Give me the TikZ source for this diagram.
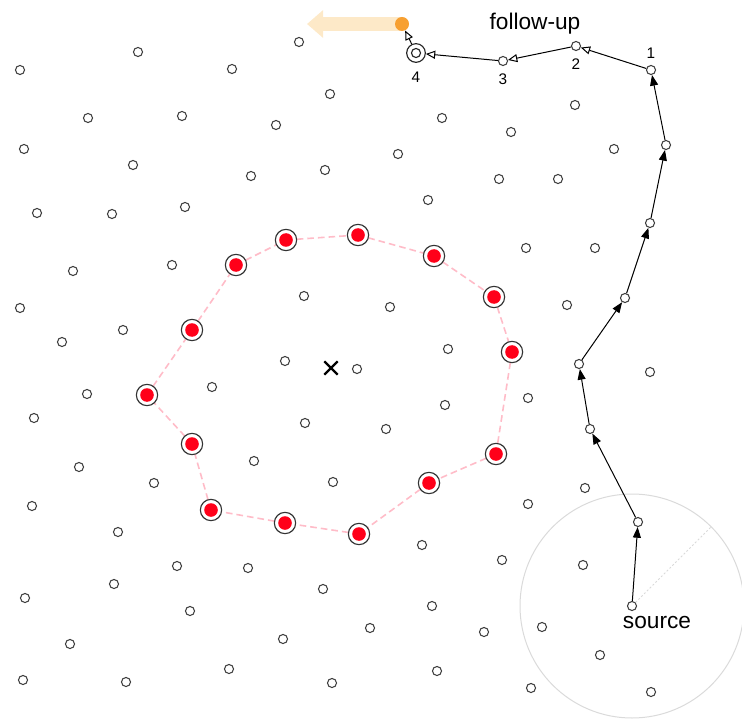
\documentclass[tikz,border=0pt]{standalone}
\usepackage{fontspec}
\setmainfont{Liberation Sans}
\usetikzlibrary{arrows.meta,shapes.misc,calc}
\definecolor{ringred}{RGB}{255,0,25}
\definecolor{pinkline}{RGB}{255,188,200}
\definecolor{fuorange}{RGB}{247,160,50}
\definecolor{fuband}{RGB}{253,233,200}
\definecolor{circgray}{RGB}{218,218,218}
\tikzset{
  dot/.style={circle, draw=black!75, line width=0.8pt, fill=white, minimum size=6.8pt, inner sep=0pt},
  reddot/.style={circle, draw=black!80, line width=0.85pt, fill=white, minimum size=16pt, inner sep=0pt,
    path picture={\fill[ringred] (path picture bounding box.center) circle (5.1pt);}},
  target/.style={circle, draw=black!85, line width=0.85pt, fill=white, minimum size=14pt, inner sep=0pt,
    path picture={\draw[black!85, line width=0.85pt] (path picture bounding box.center) circle (3.4pt);}},
  fudot/.style={circle, fill=fuorange, minimum size=10.5pt, inner sep=0pt},
  walk/.style={draw=black, line width=0.75pt, -{Triangle[length=8pt,width=6pt]}},
  follow/.style={draw=black, line width=0.75pt, -{Triangle[open,length=7pt,width=6pt]}},
  ringline/.style={draw=pinkline, line width=1.2pt, dash pattern=on 5pt off 3pt},
  band/.style={draw=fuband, line width=10pt, -{Triangle[length=12pt,width=20pt]}},
  numlbl/.style={anchor=base, inner sep=0pt, font=\fontsize{11.5}{13}\selectfont},
  biglbl/.style={anchor=base, inner sep=0pt, font=\fontsize{17}{20}\selectfont},
  xmark/.style={cross out, draw=black, line width=1.6pt, minimum size=8.5pt, inner sep=0pt},
}
\begin{document}
\begin{tikzpicture}[x=0.75pt,y=-0.75pt]
\useasboundingbox (0,0) rectangle (742,720);
% source and its circle
\node[dot] (src) at (632,606) {};
\draw[circgray, line width=0.75pt] (src) circle (84pt);
\coordinate (rim) at ($(src)+(45:84pt)$);
\draw[circgray, line width=0.6pt, dash pattern=on 1.5pt off 1.5pt] (src.45) -- (rim);
% plain dots
\foreach \x/\y [count=\i] in {138/52, 299/42, 20/70, 232/69, 88/118, 182/116, 330/94, 276/125, 24/149, 133/165,
  442/118, 511/132, 575/105, 398/154, 251/176, 325/170, 614/149, 499/179, 558/179, 37/213,
  112/214, 185/207, 428/200, 526/248, 595/248, 73/271, 172/265, 20/308, 123/330, 62/342,
  304/296, 390/307, 567/305, 448/349, 285/361, 357/369, 650/372, 87/394, 212/387, 34/418,
  445/405, 528/398, 305/423, 386/429, 79/467, 254/461, 333/482, 154/483, 585/488, 528/504,
  32/506, 118/532, 422/545, 177/566, 248/568, 502/560, 583/565, 114/584, 25/598, 190/611,
  323/589, 432/606, 370/628, 484/632, 542/627, 283/639, 70/644, 229/669, 600/655, 23/680,
  126/682, 332/683, 437/671, 531/688, 651/692}
  \node[dot] (d\i) at (\x,\y) {};
% walk nodes
\node[dot] (p1) at (638,522) {};
\node[dot] (p2) at (590,429) {};
\node[dot] (p3) at (579,364) {};
\node[dot] (p4) at (625,298) {};
\node[dot] (p5) at (650,223) {};
\node[dot] (p6) at (666,145) {};
\node[dot] (n1) at (651,70) {};
\node[dot] (n2) at (576,46) {};
\node[dot] (n3) at (503,61) {};
\node[target] (n4) at (416,53) {};
% follow-up band and dot
\coordinate (fuc) at (402,24);
\coordinate (futip) at (307,24);
\draw[band] (fuc) -- (futip);
\node[fudot] (fu) at (fuc) {};
% ring
\foreach \x/\y [count=\i] in {147/395, 192/330, 236/265, 286/240, 358/235, 434/256, 494/297,
  512/352, 496/454, 429/483, 359/534, 285/523, 211/510, 192/444}
  \coordinate (rc\i) at (\x,\y);
\foreach \a/\b in {1/2,2/3,3/4,4/5,5/6,6/7,7/8,8/9,9/10,10/11,11/12,12/13,13/14,14/1}
  \draw[ringline] (rc\a) -- (rc\b);
\foreach \i in {1,...,14}
  \node[reddot] (r\i) at (rc\i) {};
% centre mark
\node[xmark] (ctr) at (331,368) {};
% walk arrows
\draw[walk] (src) -- (p1);
\draw[walk] (p1) -- (p2);
\draw[walk] (p2) -- (p3);
\draw[walk] (p3) -- (p4);
\draw[walk] (p4) -- (p5);
\draw[walk] (p5) -- (p6);
\draw[walk] (p6) -- (n1);
\draw[follow] (n1) -- (n2);
\draw[follow] (n2) -- (n3);
\draw[follow] (n3) -- (n4);
\draw[follow] (n4) -- (fu);
% labels
\node[numlbl] (l1) at (651,59) {1};
\node[numlbl] (l2) at (576,70) {2};
\node[numlbl] (l3) at (503,85) {3};
\node[numlbl] (l4) at (416,83) {4};
\node[biglbl] (lfu) at (535,30) {follow-up};
\node[biglbl] (lsrc) at (657,628) {source};
\end{tikzpicture}
\end{document}
